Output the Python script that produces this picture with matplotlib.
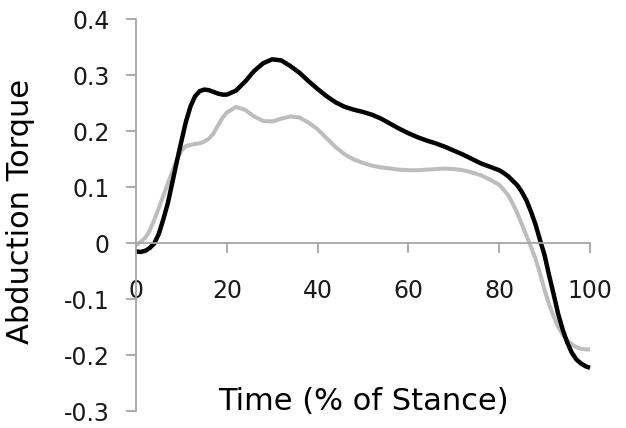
import numpy as np
import matplotlib
matplotlib.use('Agg')
import matplotlib.pyplot as plt

plt.rcParams['font.family'] = ['DejaVu Sans']
plt.rcParams['axes.unicode_minus'] = False

# % of stance
time = [0, 1, 2, 3, 4, 5, 6, 7, 8, 9, 10, 11, 12, 13, 14, 15, 16, 17, 18, 19, 20,
        22, 24, 26, 28, 30, 32, 34, 36, 38, 40, 42, 44, 46, 48, 50, 52, 54, 56, 58,
        60, 62, 64, 66, 68, 70, 72, 74, 76, 78, 80,
        81, 82, 83, 84, 85, 86, 87, 88, 89, 90, 91, 92, 93, 94, 95, 96, 97, 98, 99, 100]

# black curve
torque_black = [-0.015, -0.016, -0.014, -0.009, -0.001, 0.016, 0.042, 0.071, 0.108, 0.146,
                0.182, 0.217, 0.244, 0.262, 0.271, 0.274, 0.273, 0.270, 0.267, 0.265, 0.265,
                0.272, 0.288, 0.307, 0.321, 0.328, 0.326, 0.316, 0.304, 0.289,
                0.275, 0.262, 0.251, 0.243, 0.238, 0.234, 0.229, 0.222, 0.213, 0.204,
                0.196, 0.189, 0.183, 0.178, 0.172, 0.165, 0.158, 0.150, 0.142, 0.136, 0.130,
                0.125, 0.119, 0.111, 0.103, 0.091, 0.076, 0.056, 0.033, 0.005, -0.022,
                -0.058, -0.092, -0.127, -0.155, -0.178, -0.196, -0.208, -0.215, -0.220, -0.223]

# grey curve
torque_grey = [-0.004, 0.002, 0.009, 0.022, 0.041, 0.062, 0.084, 0.106, 0.128, 0.149,
               0.165, 0.173, 0.175, 0.177, 0.178, 0.181, 0.186, 0.195, 0.209, 0.223, 0.233,
               0.243, 0.238, 0.226, 0.218, 0.217, 0.222, 0.226, 0.224, 0.215,
               0.203, 0.187, 0.171, 0.158, 0.149, 0.143, 0.138, 0.135, 0.133, 0.131,
               0.130, 0.130, 0.131, 0.132, 0.133, 0.132, 0.130, 0.126, 0.121, 0.113, 0.104,
               0.095, 0.085, 0.070, 0.053, 0.033, 0.013, -0.007, -0.028, -0.055, -0.084,
               -0.110, -0.131, -0.150, -0.164, -0.174, -0.181, -0.186, -0.189, -0.190, -0.190]

xticks = [0, 20, 40, 60, 80, 100]
yticks = [-0.3, -0.2, -0.1, 0, 0.1, 0.2, 0.3, 0.4]
ytick_labels = ['-0.3', '-0.2', '-0.1', '0', '0.1', '0.2', '0.3', '0.4']

fig = plt.figure(figsize=(6.26, 4.28), dpi=100)
ax = fig.add_axes([0.2173, 0.0397, 0.7252, 0.9159])

ax.plot(time, torque_grey, color='#bdbdbd', lw=2.9, solid_capstyle='butt',
        solid_joinstyle='round', clip_on=False)
ax.plot(time, torque_black, color='black', lw=3.2, solid_capstyle='butt',
        solid_joinstyle='round', clip_on=False)

ax.set_xlim(0, 100)
ax.set_ylim(-0.3, 0.4)

for s in ['top', 'right']:
    ax.spines[s].set_visible(False)
ax.spines['bottom'].set_position(('data', 0))
for s in ['left', 'bottom']:
    ax.spines[s].set_color('#a6a6a6')
    ax.spines[s].set_linewidth(1.3)

ax.set_xticks(xticks)
ax.set_xticklabels([str(t) for t in xticks])
ax.set_yticks(yticks)
ax.set_yticklabels(ytick_labels)
ax.tick_params(axis='x', direction='out', length=7, width=1.3, color='#a6a6a6',
               pad=19, labelsize=17, labelcolor='#1a1a1a')
ax.tick_params(axis='y', direction='out', length=7, width=1.3, color='#a6a6a6',
               pad=12, labelsize=17, labelcolor='#1a1a1a')

ax.set_xlabel('Time (% of Stance)', fontsize=22, va='center')
ax.xaxis.set_label_coords(0.5, 0.023)
ax.set_ylabel('Abduction Torque', fontsize=22, va='center')
ax.yaxis.set_label_coords(-0.255, 0.51)

fig.savefig('out.png', dpi=100)
